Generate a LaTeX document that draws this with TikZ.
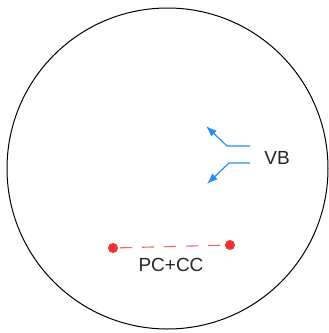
\documentclass[tikz,border=0pt]{standalone}
\usepackage{fontspec}
\setmainfont{Liberation Sans}
\usetikzlibrary{arrows.meta}
\definecolor{vbblue}{RGB}{40,140,250}
\definecolor{pcred}{RGB}{240,50,50}
\tikzset{
  flow/.style={draw=vbblue, line width=1.2pt, -{Latex[length=11pt,width=8pt]}},
  lbl/.style={font=\fontsize{19}{19}\selectfont, text=black!85, inner sep=0pt},
  dot/.style={circle, fill=pcred, inner sep=0pt, minimum size=10pt},
}
\begin{document}
\begin{tikzpicture}[x=1pt,y=-1pt]
\useasboundingbox (0,0) rectangle (329,333);
\node[draw=black, line width=1pt, circle, minimum size=321pt, inner sep=0pt] (cell) at (167.5,168.5) {};
% VB arrows
\coordinate (u0) at (250,146);
\coordinate (u1) at (227,146);
\coordinate (u2) at (206,126);
\coordinate (l0) at (250,163);
\coordinate (l1) at (229,163);
\coordinate (l2) at (207,184);
\draw[flow] (u0) -- (u1) -- (u2);
\draw[flow] (l0) -- (l1) -- (l2);
\node[lbl] (vb) at (277,158) {VB};
% PC+CC
\node[dot] (pa) at (113,248) {};
\node[dot] (pb) at (230,245) {};
\draw[pcred!75, line width=1.1pt, dash pattern=on 12pt off 10pt, dash phase=-2pt] (pa) -- (pb);
\node[lbl] (pc) at (171,265) {PC+CC};
\end{tikzpicture}
\end{document}
